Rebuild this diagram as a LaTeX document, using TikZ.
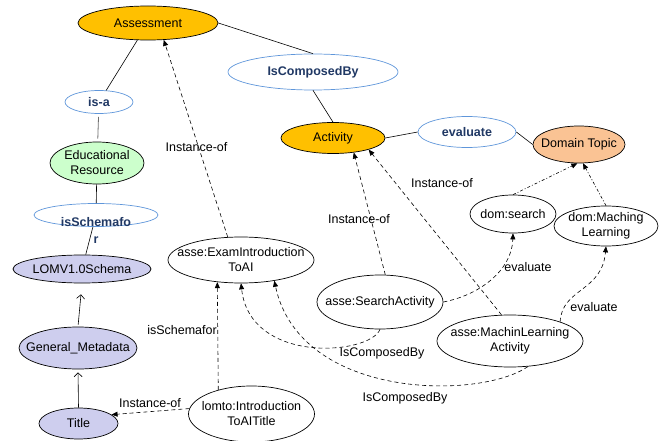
\documentclass[tikz,border=0pt]{standalone}
\usepackage{fontspec}
\setmainfont{Liberation Sans}
\usetikzlibrary{arrows.meta,shapes.geometric}
\definecolor{goldf}{RGB}{255,192,0}
\definecolor{peachf}{RGB}{250,195,148}
\definecolor{greenf}{RGB}{204,255,204}
\definecolor{lavf}{RGB}{206,206,238}
\definecolor{blueb}{RGB}{95,150,218}
\definecolor{navyt}{RGB}{32,56,100}
\definecolor{grayl}{RGB}{110,110,110}
\begin{document}
\begin{tikzpicture}[x=1pt,y=-1pt,
  every node/.style={font=\fontsize{12.5}{15}\selectfont},
  ov/.style args={#1/#2}{ellipse, draw, line width=0.7pt, minimum width=#1, minimum height=#2, inner sep=0pt},
  bov/.style args={#1/#2}{ellipse, draw=blueb, line width=0.7pt, minimum width=#1, minimum height=#2, inner sep=0pt},
  txt/.style={align=center, inner sep=0pt, text=black},
  btxt/.style={align=center, inner sep=0pt, text=navyt, font=\fontsize{12.5}{17}\selectfont\bfseries},
  elbl/.style={inner sep=1pt, text=black},
  ln/.style={line width=0.6pt, draw=black},
  dsh/.style={line width=0.6pt, dash pattern=on 4pt off 3pt, -{Triangle[length=6pt,width=5pt]}},
  dd/.style={line width=0.6pt, dash pattern=on 3pt off 2pt on 1pt off 2pt, -{Triangle[length=6pt,width=5pt]}},
  opn/.style={line width=0.6pt, -{Straight Barb[length=4pt,width=8pt]}}
]
\useasboundingbox (0,0) rectangle (670,441);

% nodes
\node[ov=140pt/34pt, fill=goldf, label={[txt]center:Assessment}] (assess) at (148,23) {};
\node[bov=170pt/36pt, label={[btxt]center:IsComposedBy}] (iscomp) at (313,72) {};
\node[bov=68pt/23pt, label={[btxt]center:is-a}] (isa) at (99,102) {};
\node[ov=94pt/42pt, fill=greenf, label={[txt]center:Educational\\Resource}] (edu) at (97,163) {};
\node[bov=124pt/23pt] (issch) at (96,215) {};
\node[btxt] (isschtxt) at (96,230) {isSchemafo\\r};
\node[ov=138pt/28pt, fill=lavf, label={[txt]center:LOMV1.0Schema}] (lomv) at (82,269) {};
\node[ov=118pt/42pt, fill=lavf, label={[txt]center:General\_Metadata}] (gen) at (78,348) {};
\node[ov=79pt/31pt, fill=lavf, label={[txt]center:Title}] (title) at (78.5,423.5) {};
\node[ov=104pt/31pt, fill=goldf, label={[txt]center:Activity}] (act) at (333,138) {};
\node[bov=98pt/31pt, label={[btxt]center:evaluate}] (eval) at (467,132) {};
\node[ov=92pt/37pt, fill=peachf, label={[txt]center:Domain Topic}] (dt) at (579,144.5) {};
\node[ov=86pt/38pt, label={[txt]center:dom:search}] (dsearch) at (513,214) {};
\node[ov=104pt/40pt, label={[txt]center:dom:Maching\\Learning}] (dml) at (606,226) {};
\node[ov=146pt/46pt, label={[txt]center:asse:ExamIntroduction\\ToAI}] (exam) at (241,260) {};
\node[ov=126pt/54pt, label={[txt]center:asse:SearchActivity}] (search) at (380,302) {};
\node[ov=146pt/52pt, label={[txt]center:asse:MachinLearning\\Activity}] (ml) at (510,341) {};
\node[ov=126pt/56pt, label={[txt]center:lomto:Introduction\\ToAITitle}] (lomto) at (251.5,414) {};

% solid connectors
\draw[ln] (assess) -- (isa);
\draw[line width=0.8pt, draw=grayl, shorten <=3pt, shorten >=3pt] (isa) -- (edu);
\draw[ln] (edu) -- (issch);
\draw[ln] (issch) -- (lomv);
\draw[ln] (assess.east) -- (iscomp.north);
\draw[ln] (iscomp.south) -- (act.north);
\draw[ln] (act.east) -- (eval.west);
\draw[ln] (eval.east) -- (dt.west);
\draw[opn, shorten >=11pt, shorten <=2pt] (gen.north) -- (lomv.south);
\draw[opn, shorten >=3pt] (title.north) -- (gen.south);

% dashed connectors
\draw[dsh] (exam.120) -- (assess.313);
\draw[dsh] (search.79) -- (act.325);
\draw[dsh] (ml.108) -- (act.342);
\draw[dsh] (search.east) .. controls (480,295) and (512,270) .. (dsearch.south);
\draw[dsh] (ml.21) .. controls (562,288) and (602,292) .. (dml.south);
\draw[dd] (dsearch.north) -- (dt.265);
\draw[dd] (dml.north) -- (dt.282);
\draw[dsh] (lomto.144) -- (exam.223);
\draw[dsh] (lomto.175) -- (title.15);
\draw[dsh] (search.south) .. controls (370,355) and (250,365) .. (exam.south);
\draw[dsh] (ml.305) .. controls (480,400) and (300,400) .. (exam.328);

% edge labels
\node[elbl] (l1) at (196.5,147) {Instance-of};
\node[elbl] (l2) at (359,219) {Instance-of};
\node[elbl] (l3) at (442,183) {Instance-of};
\node[elbl] (l4) at (528,267) {evaluate};
\node[elbl] (l5) at (594,307) {evaluate};
\node[elbl] (l6) at (182,330) {isSchemafor};
\node[elbl] (l7) at (150,403) {Instance-of};
\node[elbl] (l8) at (382,353) {IsComposedBy};
\node[elbl] (l9) at (405,398) {IsComposedBy};
\end{tikzpicture}
\end{document}
